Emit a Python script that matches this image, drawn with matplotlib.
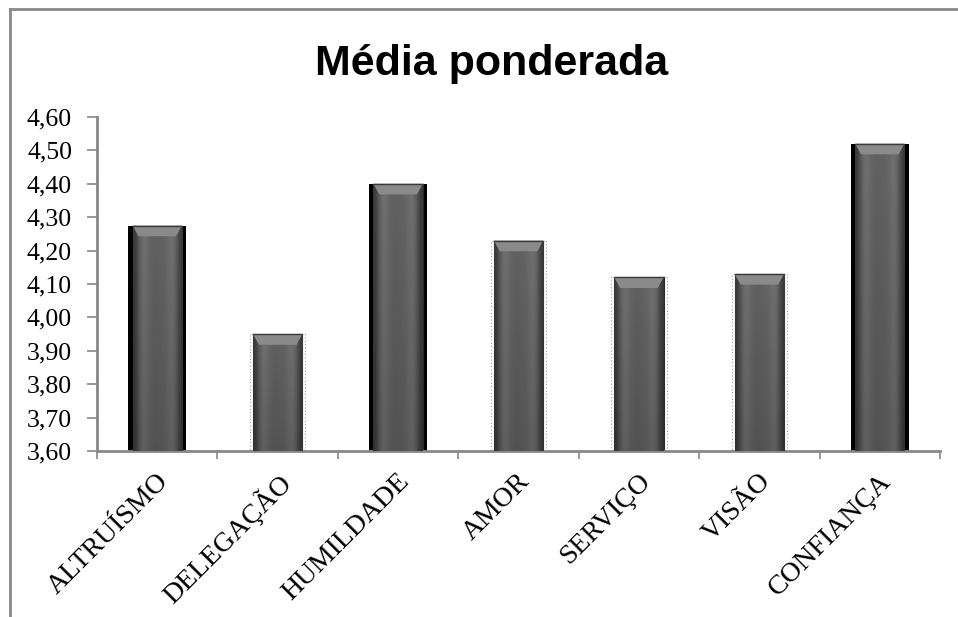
import matplotlib
matplotlib.use('Agg')
import matplotlib.pyplot as plt
import numpy as np
from matplotlib.patches import Polygon
from matplotlib.lines import Line2D
from matplotlib.transforms import ScaledTranslation

# dados
categorias = ['ALTRUÍSMO', 'DELEGAÇÃO', 'HUMILDADE', 'AMOR', 'SERVIÇO', 'VISÃO', 'CONFIANÇA']
medias = [4.275, 3.95, 4.40, 4.23, 4.12, 4.13, 4.52]
y_ticks = [3.60, 3.70, 3.80, 3.90, 4.00, 4.10, 4.20, 4.30, 4.40, 4.50, 4.60]
y_labels = ['3,60', '3,70', '3,80', '3,90', '4,00', '4,10', '4,20', '4,30', '4,40', '4,50', '4,60']
titulo = 'Média ponderada'

# barras com sombra preta nas laterais (como no original)
com_sombra = [True, False, True, False, False, False, True]

fig = plt.figure(figsize=(9.58, 6.17), dpi=100)
ax = fig.add_axes([0.1013, 0.269, 0.8799, 0.5415])

x = np.arange(len(categorias))
ymin, ymax = y_ticks[0], y_ticks[-1]
larg = 0.41

# sombras / contornos pontilhados
for xi, v, s in zip(x, medias, com_sombra):
    if s:
        ax.bar(xi, v, width=larg + 0.07, color='black', zorder=1)
    else:
        ax.bar(xi, v, width=larg + 0.05, fill=False, edgecolor='#a0a0a0',
               linestyle=(0, (1, 2)), linewidth=0.8, zorder=1)

barras = ax.bar(x, medias, width=larg, color='#555555', edgecolor='#2a2a2a',
                linewidth=0.8, zorder=2)

# gradiente horizontal/vertical dentro de cada barra
perfil = np.array([0.20, 0.36, 0.42, 0.37, 0.35, 0.35, 0.36, 0.37, 0.42, 0.36, 0.20])
vert = np.linspace(0.92, 1.08, 60)[:, None]
grad = np.clip(perfil[None, :] * vert, 0, 1)
for b in barras:
    x0, w, h = b.get_x(), b.get_width(), b.get_height()
    im = ax.imshow(grad, cmap='gray', vmin=0, vmax=1, aspect='auto',
                   extent=(x0, x0 + w, ymin, h), origin='lower',
                   interpolation='bicubic', zorder=3)
    im.set_clip_path(b)
    # chanfro no topo
    bh = 0.032
    d = w * 0.12
    bevel = Polygon([(x0, h), (x0 + w, h), (x0 + w - d, h - bh), (x0 + d, h - bh)],
                    closed=True, facecolor='#8a8a8a', edgecolor='none', zorder=4)
    ax.add_patch(bevel)
    ax.plot([x0, x0 + w], [h, h], color='#3a3a3a', lw=1, zorder=5)

ax.set_xlim(-0.5, len(categorias) - 0.5)
ax.set_ylim(ymin, ymax)

ax.set_yticks(y_ticks)
ax.set_yticklabels(y_labels)
ax.tick_params(axis='y', direction='out', length=7, width=1.2, color='#888888',
               pad=11, labelsize=18.5)
for lab in ax.get_yticklabels():
    lab.set_fontfamily('Liberation Serif')

ax.set_xticks(x)
ax.set_xticklabels(categorias, rotation=45, ha='right', va='top',
                   rotation_mode='anchor', fontsize=20, fontfamily='Liberation Serif')
ax.tick_params(axis='x', which='major', length=0, pad=13)
ax.set_xticks(np.arange(len(categorias) + 1) - 0.5, minor=True)
ax.tick_params(axis='x', which='minor', direction='out', length=6, width=1.2,
               color='#888888')
off = ScaledTranslation(-1 / 100, 0, fig.dpi_scale_trans)
for lab in ax.get_xticklabels():
    lab.set_transform(lab.get_transform() + off)

for s in ['top', 'right']:
    ax.spines[s].set_visible(False)
for s in ['left', 'bottom']:
    ax.spines[s].set_color('#888888')
    ax.spines[s].set_linewidth(2)

fig.text(0.513, 1 - 75 / 617, titulo, ha='center', va='baseline',
         fontsize=31, fontweight='bold', fontfamily='Liberation Sans')

# moldura parcial do gráfico
fig.add_artist(Line2D([9.5 / 958, 1.0], [1 - 9 / 617, 1 - 9 / 617],
                      transform=fig.transFigure, color='#888888', lw=2))
fig.add_artist(Line2D([9.5 / 958, 9.5 / 958], [0, 1 - 9 / 617],
                      transform=fig.transFigure, color='#888888', lw=2))

fig.savefig('out.png', dpi=100)
